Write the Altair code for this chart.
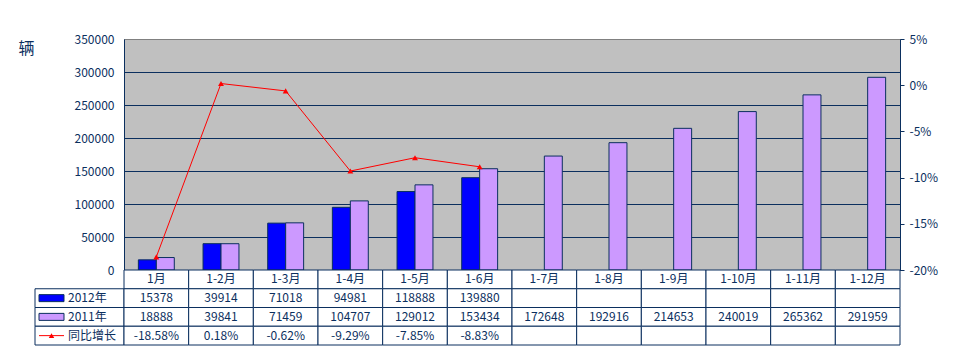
import altair as alt
import pandas as pd

months = ["1月", "1-2月", "1-3月", "1-4月", "1-5月", "1-6月",
          "1-7月", "1-8月", "1-9月", "1-10月", "1-11月", "1-12月"]
v2012 = [15378, 39914, 71018, 94981, 118888, 139880]
v2011 = [18888, 39841, 71459, 104707, 129012, 153434,
         172648, 192916, 214653, 240019, 265362, 291959]
growth = [-18.58, 0.18, -0.62, -9.29, -7.85, -8.83]
series = ["2012年", "2011年"]
row_names = ["h", "2012年", "2011年", "同比增长"]

NAVY = "#0B2F5E"
FONT = "Noto Sans CJK SC"
PW, PH = 776, 231
TH = 75
LW = 89

# ---------- data tables ----------
bars_rows = []
for m, v in zip(months, v2012):
    bars_rows.append({"month": m, "series": "2012年", "value": v})
for m, v in zip(months, v2011):
    bars_rows.append({"month": m, "series": "2011年", "value": v})
bars_df = pd.DataFrame(bars_rows)
line_df = pd.DataFrame({"month": months[:len(growth)], "growth": growth})

cells = []
for i, m in enumerate(months):
    cells.append({"month": m, "row": "h", "text": m})
    cells.append({"month": m, "row": "2012年", "text": str(v2012[i]) if i < len(v2012) else ""})
    cells.append({"month": m, "row": "2011年", "text": str(v2011[i]) if i < len(v2011) else ""})
    cells.append({"month": m, "row": "同比增长", "text": f"{growth[i]:.2f}%" if i < len(growth) else ""})
cells_df = pd.DataFrame(cells)

labels_df = pd.DataFrame({"row": ["2012年", "2011年", "同比增长"],
                          "label": ["2012年", "2011年", "同比增长"]})

# ---------- top chart ----------
xenc = alt.X("month:N", sort=months,
             scale=alt.Scale(domain=months, paddingInner=0, paddingOuter=0),
             axis=alt.Axis(labels=False, ticks=False, title=None, grid=False,
                           domainColor=NAVY))

bars = alt.Chart(bars_df).mark_bar(stroke=NAVY, strokeWidth=1).encode(
    x=xenc,
    xOffset=alt.XOffset("series:N", sort=series,
                        scale=alt.Scale(domain=series, paddingInner=0, paddingOuter=0.8)),
    y=alt.Y("value:Q",
            scale=alt.Scale(domain=[0, 350000], nice=False),
            axis=alt.Axis(values=list(range(0, 350001, 50000)), format="d",
                          grid=True,
                          gridColor={"condition": {"test": "datum.value >= 350000",
                                                   "value": "#808080"},
                                     "value": NAVY},
                          ticks=False, domainColor=NAVY,
                          labelColor=NAVY, labelFont=FONT, labelFontSize=12,
                          labelPadding=10,
                          title="辆", titleAngle=0, titleAlign="left",
                          titleBaseline="top", titleX=-106, titleY=1,
                          titleFont=FONT, titleFontSize=16,
                          titleFontWeight="normal", titleColor=NAVY)),
    color=alt.Color("series:N", sort=series,
                    scale=alt.Scale(domain=series, range=["#0000FF", "#CC99FF"]),
                    legend=None),
)

yright = alt.Y("growth:Q",
               scale=alt.Scale(domain=[-20, 5], nice=False),
               axis=alt.Axis(orient="right", values=[-20, -15, -10, -5, 0, 5],
                             labelExpr="datum.value + '%'",
                             grid=False, ticks=True, tickSize=4, tickColor=NAVY,
                             domainColor=NAVY, labelColor=NAVY, labelFont=FONT,
                             labelFontSize=12, labelPadding=5, title=None))

line = alt.Chart(line_df).mark_line(color="#FF0000", strokeWidth=1).encode(
    x=alt.X("month:N", sort=months), y=yright)
pts = alt.Chart(line_df).mark_point(shape="triangle-up", filled=True, size=35,
                                    color="#FF0000", opacity=1).encode(
    x=alt.X("month:N", sort=months), y=yright)

top = alt.layer(bars, alt.layer(line, pts)).resolve_scale(y="independent").properties(
    width=PW, height=PH,
    view=alt.ViewBackground(fill="#C0C0C0", stroke="#808080", strokeWidth=1))

# ---------- data table ----------
ytab = alt.Y("row:N", sort=row_names,
             scale=alt.Scale(domain=row_names, paddingInner=0, paddingOuter=0),
             axis=None)
tbase = alt.Chart(cells_df).encode(
    x=alt.X("month:N", sort=months,
            scale=alt.Scale(domain=months, paddingInner=0, paddingOuter=0),
            axis=None),
    y=ytab)
trect = tbase.mark_rect(fill="white", stroke=NAVY, strokeWidth=1)
ttext = tbase.mark_text(font=FONT, fontSize=12, color=NAVY).encode(text="text:N")
table = alt.layer(trect, ttext).properties(
    width=PW, height=TH, view=alt.ViewBackground(strokeOpacity=0))

# ---------- row label column ----------
lbase = alt.Chart(labels_df).encode(y=ytab)
lrect = lbase.mark_rect(fill="white", stroke=NAVY, strokeWidth=1).encode(
    x=alt.value(0), x2=alt.value(LW))
sw_df = pd.DataFrame({"row": ["2012年", "2011年"], "series": series})
swatch = alt.Chart(sw_df).mark_bar(height=7, stroke=NAVY, strokeWidth=1).encode(
    y=ytab, x=alt.value(4), x2=alt.value(29),
    color=alt.Color("series:N", sort=series,
                    scale=alt.Scale(domain=series, range=["#0000FF", "#CC99FF"]),
                    legend=None))
g_df = pd.DataFrame({"row": ["同比增长"]})
gline = alt.Chart(g_df).mark_rule(color="#FF0000", strokeWidth=1).encode(
    y=ytab, x=alt.value(4), x2=alt.value(29))
gpt = alt.Chart(g_df).mark_point(shape="triangle-up", filled=True, size=30,
                                 color="#FF0000", opacity=1).encode(
    y=ytab, x=alt.value(16.5))
ltext = lbase.mark_text(font=FONT, fontSize=12, color=NAVY, align="left").encode(
    x=alt.value(33), text="label:N")
labelcol = alt.layer(lrect, swatch, gline, gpt, ltext).properties(
    width=LW, height=TH, view=alt.ViewBackground(strokeOpacity=0))

spacer = alt.Chart(pd.DataFrame({"a": [0]})).mark_point(opacity=0).encode(
    x=alt.value(0), y=alt.value(0)).properties(
    width=LW, height=PH, view=alt.ViewBackground(strokeOpacity=0))

chart = alt.concat(spacer, top, labelcol, table, columns=2, spacing=0).properties(
    bounds="flush",
    padding={"left": 9, "top": 24, "right": 5, "bottom": 5},
).configure(background="white")

chart.save("out.html", embed_options={"renderer": "svg", "actions": False})
